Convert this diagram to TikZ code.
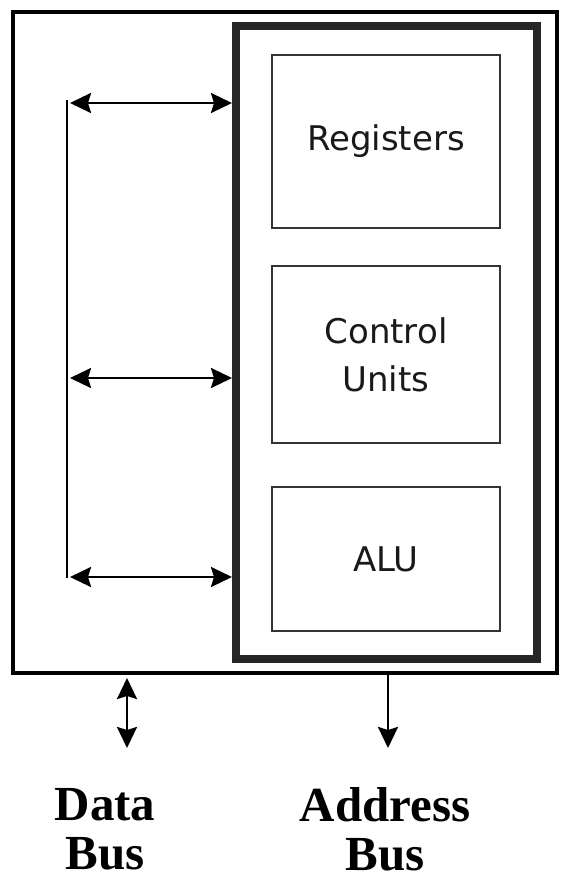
\documentclass[tikz,border=0pt]{standalone}
\usepackage{fontspec}
\setmainfont{Liberation Serif}
\newfontfamily\boxfont{DejaVu Sans}
\usetikzlibrary{arrows.meta}
\tikzset{
  unitbox/.style={draw=black!80, line width=1.5pt, minimum width=228pt, align=center,
    font=\boxfont\fontsize{34}{48}\selectfont, text=black!90},
  busline/.style={line width=2.6pt},
  busarrow/.style={busline, arrows={Stealth[length=21pt,width=20pt,inset=3pt]-Stealth[length=21pt,width=20pt,inset=3pt]}},
  outarrow/.style={busline, arrows={-Stealth[length=21pt,width=20pt,inset=3pt]}},
  buslabel/.style={align=center, font=\fontsize{49}{49}\selectfont\bfseries}
}
\begin{document}
\begin{tikzpicture}[x=1pt, y=-1pt]
    \useasboundingbox (0,0) rectangle (567,881);

    % chip outline and processor frame
    \node[draw, line width=4pt, minimum width=544.5pt, minimum height=661pt] (chip) at (284.75,342.5) {};
    \node[draw=black!85, line width=8pt, minimum width=301pt, minimum height=633pt] (cpu) at (386.5,342.5) {};

    \node[unitbox, minimum height=173pt] (reg) at (386,141.5) {Registers};
    \node[unitbox, minimum height=177pt] (ctrl) at (386,354.5) {Control\\Units};
    \node[unitbox, minimum height=144pt] (alu) at (386,559) {ALU};

    % internal bus
    \coordinate (busTop) at (67,100);
    \coordinate (busBot) at (67,578);
    \draw[line width=2.5pt] (busTop) -- (busBot);
    \foreach \y in {103,378,577}
        \draw[busarrow] (70,\y) -- (cpu.west |- 0,\y);

    % external buses
    \coordinate (dataEnd) at (127,748);
    \coordinate (addrEnd) at (388,748);
    \draw[busarrow, shorten <=3pt] (dataEnd |- chip.south) -- (dataEnd);
    \draw[outarrow] (addrEnd |- chip.south) -- (addrEnd);

    \node[buslabel] (dataLbl) at (105,829) {Data\\Bus};
    \node[buslabel] (addrLbl) at (385,829) {Address\\Bus};
\end{tikzpicture}
\end{document}
